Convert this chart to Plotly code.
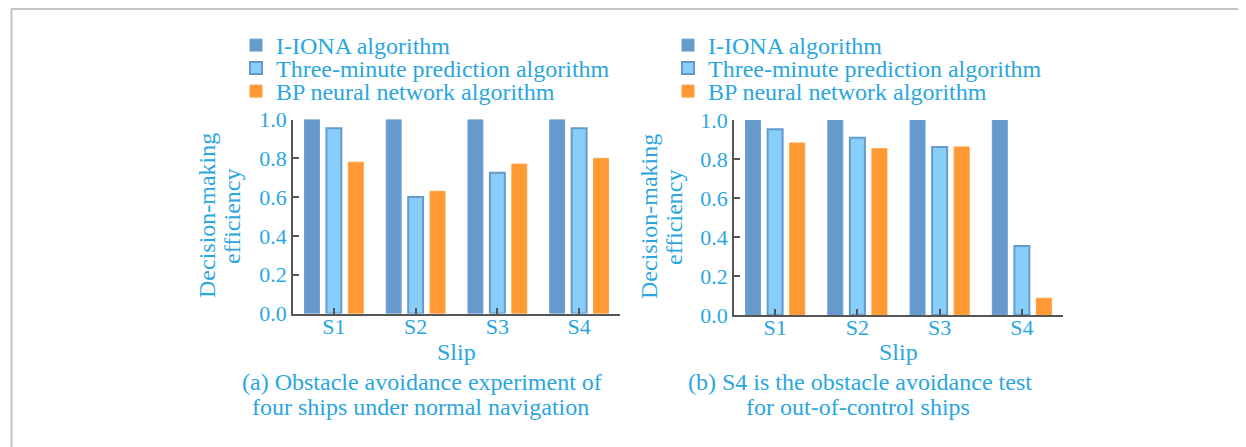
import plotly.graph_objects as go

# Page is rendered with an 8px body margin; figure sized to fit the window.
OFF = 8
W, H = 1246 - OFF, 447 - OFF

categories = ["S1", "S2", "S3", "S4"]
series_names = ["I-IONA algorithm", "Three-minute prediction algorithm", "BP neural network algorithm"]

# Panel (a): normal navigation
a_iiona = [1.0, 1.0, 1.0, 1.0]
a_three = [0.955, 0.60, 0.725, 0.955]
a_bp = [0.78, 0.63, 0.77, 0.80]

# Panel (b): S4 out-of-control
b_iiona = [1.0, 1.0, 1.0, 1.0]
b_three = [0.952, 0.909, 0.862, 0.354]
b_bp = [0.882, 0.853, 0.862, 0.086]

y_ticks = [0.0, 0.2, 0.4, 0.6, 0.8, 1.0]
y_tick_labels = ["0.0", "0.2", "0.4", "0.6", "0.8", "1.0"]

caption_a = ["(a) Obstacle avoidance experiment of", "four ships under normal navigation"]
caption_b = ["(b) S4 is the obstacle avoidance test", "for out-of-control ships"]
x_title = "Slip"
y_title = ["Decision-making", "efficiency"]

TXT = "#2AA6DF"
AX = "#555555"
FONT = "Liberation Serif, Times New Roman, serif"
FS = 24
FS_TICK = 22

fill = ["#6699CC", "#87CEFA", "#FF9933"]
line = ["#6E9FD2", "#6699CC", "#FFA040"]
lw = [1, 2, 1]

def px(x):
    return (x - OFF) / W

def py(y):
    return 1 - (y - OFF) / H

fig = go.Figure()

panels = [
    ("x", "y", [a_iiona, a_three, a_bp], ["legend", "legend2", "legend3"]),
    ("x2", "y2", [b_iiona, b_three, b_bp], ["legend4", "legend5", "legend6"]),
]
for xa, ya, vals, legs in panels:
    for i, v in enumerate(vals):
        fig.add_trace(go.Bar(
            x=categories, y=v, name=series_names[i],
            xaxis=xa, yaxis=ya, legend=legs[i], showlegend=True,
            marker=dict(color=fill[i], line=dict(color=line[i], width=lw[i])),
        ))

legend_rows = [45.5, 68.5, 91.5]
legend_x = {"a": 236, "b": 668}
legend_cfg = {}
names = ["legend", "legend2", "legend3", "legend4", "legend5", "legend6"]
for k, nm in enumerate(names):
    xpix = legend_x["a"] if k < 3 else legend_x["b"]
    legend_cfg[nm] = dict(
        x=px(xpix), y=py(legend_rows[k % 3]), xanchor="left", yanchor="middle",
        xref="paper", yref="paper", visible=True,
        font=dict(family=FONT, size=FS, color=TXT),
        bgcolor="rgba(0,0,0,0)", borderwidth=0,
    )

axis_common = dict(
    showline=True, linecolor=AX, linewidth=1.5,
    ticks="inside", ticklen=6, tickwidth=1.5, tickcolor=AX,
    showgrid=False, zeroline=False, automargin=False,
    tickfont=dict(family=FONT, size=FS_TICK, color=TXT),
)

fig.update_layout(
    width=W, height=H,
    showlegend=True,
    margin=dict(l=0, r=0, t=0, b=0, pad=0, autoexpand=False),
    paper_bgcolor="white", plot_bgcolor="white",
    barmode="group", bargap=0.195, bargroupgap=0.32,
    font=dict(family=FONT, size=FS, color=TXT),
    xaxis=dict(domain=[px(293), px(620)], anchor="y", ticklabelstandoff=-8, **axis_common),
    yaxis=dict(domain=[py(313.5), py(119.5)], anchor="x", range=[0, 1],
               tickvals=y_ticks, ticktext=y_tick_labels, **axis_common),
    xaxis2=dict(domain=[px(734), px(1063)], anchor="y2", ticklabelstandoff=-8, **axis_common),
    yaxis2=dict(domain=[py(315), py(120)], anchor="x2", range=[0, 1],
                tickvals=y_ticks, ticktext=y_tick_labels, **axis_common),
    **legend_cfg,
)

ann = []
def add_text(text, x, y, angle=0):
    ann.append(dict(text=text, x=px(x), y=py(y), xref="paper", yref="paper",
                    xanchor="center", yanchor="middle", showarrow=False,
                    textangle=angle, font=dict(family=FONT, size=FS, color=TXT)))

add_text(x_title, 456, 352)
add_text(x_title, 898, 352)
add_text(caption_a[0], 422, 382)
add_text(caption_a[1], 421, 407)
add_text(caption_b[0], 860, 382)
add_text(caption_b[1], 858, 407)
add_text(y_title[0], 207, 216, -90)
add_text(y_title[1], 232, 216, -90)
add_text(y_title[0], 649, 217, -90)
add_text(y_title[1], 674, 217, -90)
fig.update_layout(annotations=ann)

fig.update_layout(shapes=[
    dict(type="line", xref="paper", yref="paper", x0=px(11), x1=1, y0=py(9), y1=py(9),
         line=dict(color="#C4C4C4", width=2)),
    dict(type="line", xref="paper", yref="paper", x0=px(11.5), x1=px(11.5), y0=py(8.5), y1=0,
         line=dict(color="#C4C4C4", width=2)),
])

fig.write_html("out.html")
